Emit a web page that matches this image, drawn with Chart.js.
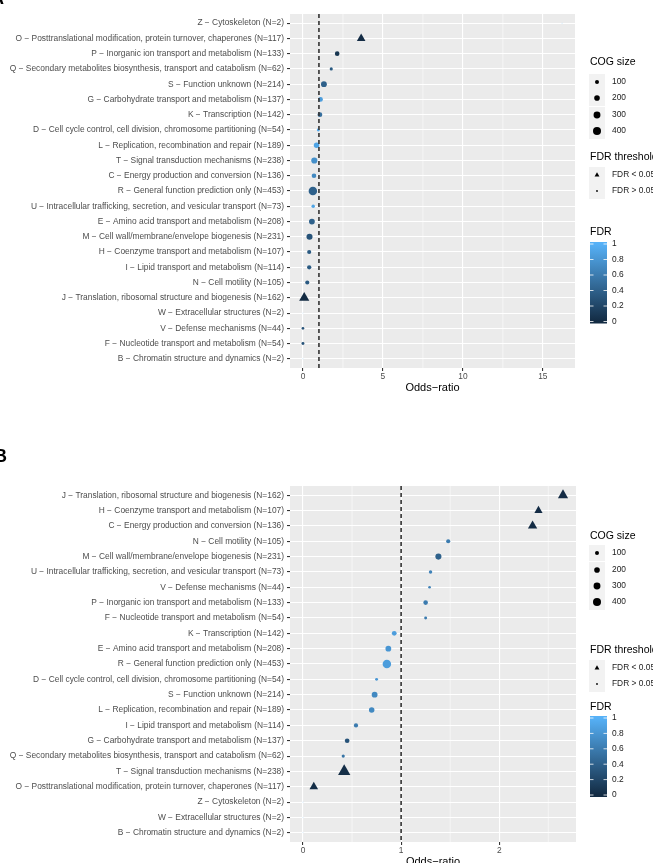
<!DOCTYPE html>
<html>
<head>
<meta charset="utf-8">
<script src="https://cdn.jsdelivr.net/npm/chart.js@4.4.1/dist/chart.umd.min.js"></script>
<style>
  html, body { margin: 0; padding: 0; background: #fff; overflow: hidden; width: 653px; height: 863px; }
  canvas { position: absolute; left: 0; }
  #chartA { top: 0; }
  #chartB { top: 431px; }
</style>
</head>
<body>
<canvas id="chartA" width="653" height="431"></canvas>
<canvas id="chartB" width="653" height="455"></canvas>
<script>
// ---- panel A: categories top to bottom ----
const categoriesA = [
  "Z − Cytoskeleton (N=2)",
  "O − Posttranslational modification, protein turnover, chaperones (N=117)",
  "P − Inorganic ion transport and metabolism (N=133)",
  "Q − Secondary metabolites biosynthesis, transport and catabolism (N=62)",
  "S − Function unknown (N=214)",
  "G − Carbohydrate transport and metabolism (N=137)",
  "K − Transcription (N=142)",
  "D − Cell cycle control, cell division, chromosome partitioning (N=54)",
  "L − Replication, recombination and repair (N=189)",
  "T − Signal transduction mechanisms (N=238)",
  "C − Energy production and conversion (N=136)",
  "R − General function prediction only (N=453)",
  "U − Intracellular trafficking, secretion, and vesicular transport (N=73)",
  "E − Amino acid transport and metabolism (N=208)",
  "M − Cell wall/membrane/envelope biogenesis (N=231)",
  "H − Coenzyme transport and metabolism (N=107)",
  "I − Lipid transport and metabolism (N=114)",
  "N − Cell motility (N=105)",
  "J − Translation, ribosomal structure and biogenesis (N=162)",
  "W − Extracellular structures (N=2)",
  "V − Defense mechanisms (N=44)",
  "F − Nucleotide transport and metabolism (N=54)",
  "B − Chromatin structure and dynamics (N=2)"
];
const sizesA = [2, 117, 133, 62, 214, 137, 142, 54, 189, 238, 136, 453, 73, 208, 231, 107, 114, 105, 162, 2, 44, 54, 2];
const oddsA  = [16.2, 3.64, 2.14, 1.77, 1.31, 1.10, 1.06, 0.96, 0.85, 0.71, 0.69, 0.62, 0.64, 0.56, 0.41, 0.39, 0.39, 0.27, 0.08, 0, 0, 0, 0];
const fdrA   = [1, 0.01, 0.08, 0.35, 0.4, 0.85, 0.5, 0.95, 0.9, 0.75, 0.7, 0.4, 0.9, 0.4, 0.3, 0.35, 0.35, 0.35, 0.0, 1, 0.3, 0.3, 1];
const xTicksA = [0, 5, 10, 15];

// ---- panel B ----
const categoriesB = [
  "J − Translation, ribosomal structure and biogenesis (N=162)",
  "H − Coenzyme transport and metabolism (N=107)",
  "C − Energy production and conversion (N=136)",
  "N − Cell motility (N=105)",
  "M − Cell wall/membrane/envelope biogenesis (N=231)",
  "U − Intracellular trafficking, secretion, and vesicular transport (N=73)",
  "V − Defense mechanisms (N=44)",
  "P − Inorganic ion transport and metabolism (N=133)",
  "F − Nucleotide transport and metabolism (N=54)",
  "K − Transcription (N=142)",
  "E − Amino acid transport and metabolism (N=208)",
  "R − General function prediction only (N=453)",
  "D − Cell cycle control, cell division, chromosome partitioning (N=54)",
  "S − Function unknown (N=214)",
  "L − Replication, recombination and repair (N=189)",
  "I − Lipid transport and metabolism (N=114)",
  "G − Carbohydrate transport and metabolism (N=137)",
  "Q − Secondary metabolites biosynthesis, transport and catabolism (N=62)",
  "T − Signal transduction mechanisms (N=238)",
  "O − Posttranslational modification, protein turnover, chaperones (N=117)",
  "Z − Cytoskeleton (N=2)",
  "W − Extracellular structures (N=2)",
  "B − Chromatin structure and dynamics (N=2)"
];
const sizesB = [162, 107, 136, 105, 231, 73, 44, 133, 54, 142, 208, 453, 54, 214, 189, 114, 137, 62, 238, 117, 2, 2, 2];
const oddsB  = [2.65, 2.40, 2.34, 1.48, 1.38, 1.30, 1.29, 1.25, 1.25, 0.93, 0.87, 0.855, 0.75, 0.73, 0.70, 0.54, 0.45, 0.41, 0.42, 0.11, 0, 0, 0];
const fdrB   = [0.01, 0.01, 0.01, 0.6, 0.4, 0.65, 0.65, 0.6, 0.6, 0.85, 0.8, 0.85, 0.8, 0.7, 0.7, 0.6, 0.3, 0.55, 0.02, 0.02, 1, 1, 1];
const xTicksB = [0, 1, 2];

// legend values
const sizeKeys = [100, 200, 300, 400];
const thresholdKeys = ["FDR < 0.05", "FDR > 0.05"];
const fdrTicks = [1, 0.8, 0.6, 0.4, 0.2, 0];

const FONT = "'Liberation Sans', Arial, Helvetica, sans-serif";
const LOW = [19, 43, 67], HIGH = [86, 177, 247];

function fdrColor(v) {
  const c = LOW.map((l, i) => Math.round(l + (HIGH[i] - l) * v));
  return `rgb(${c[0]},${c[1]},${c[2]})`;
}
function pointSize(n, triangle) {
  const r = 0.2 * Math.sqrt(n);
  return triangle ? r * 2.3 : r;
}

function drawLegends(ctx, L) {
  const kx = 597, tx = 612;
  ctx.save();
  ctx.textAlign = 'left';
  ctx.textBaseline = 'middle';
  // COG size
  ctx.fillStyle = '#000';
  ctx.font = `10.5px ${FONT}`;
  ctx.fillText('COG size', 590, L.sizeTitle);
  sizeKeys.forEach((s, i) => {
    const y = L.sizeY[i];
    ctx.fillStyle = '#F2F2F2';
    ctx.fillRect(kx - 8, y - 8, 16, 16);
    ctx.fillStyle = '#000';
    ctx.beginPath(); ctx.arc(kx, y, pointSize(s, false), 0, Math.PI * 2); ctx.fill();
    ctx.fillStyle = '#1A1A1A';
    ctx.font = `8.4px ${FONT}`;
    ctx.fillText(String(s), tx, y);
  });
  // FDR threshold
  ctx.fillStyle = '#000';
  ctx.font = `10.5px ${FONT}`;
  ctx.fillText('FDR threshold', 590, L.thrTitle);
  thresholdKeys.forEach((t, i) => {
    const y = L.thrY[i];
    ctx.fillStyle = '#F2F2F2';
    ctx.fillRect(kx - 8, y - 8, 16, 16);
    ctx.fillStyle = '#000';
    ctx.beginPath();
    if (i === 0) {
      const r = 2.8;
      ctx.moveTo(kx, y - r);
      ctx.lineTo(kx + r * 0.866, y + r / 2);
      ctx.lineTo(kx - r * 0.866, y + r / 2);
      ctx.closePath();
    } else {
      ctx.arc(kx, y, 0.9, 0, Math.PI * 2);
    }
    ctx.fill();
    ctx.fillStyle = '#1A1A1A';
    ctx.font = `8.4px ${FONT}`;
    ctx.fillText(t, tx, y);
  });
  // FDR colour bar
  ctx.fillStyle = '#000';
  ctx.font = `10.5px ${FONT}`;
  ctx.fillText('FDR', 590, L.fdrTitle);
  const g = ctx.createLinearGradient(0, L.v0, 0, L.v1);
  g.addColorStop(0, fdrColor(0));
  g.addColorStop(0.5, fdrColor(0.5));
  g.addColorStop(1, fdrColor(1));
  ctx.fillStyle = g;
  ctx.fillRect(590, L.v1 - 2, 17, L.v0 - L.v1 + 4);
  ctx.strokeStyle = '#fff';
  ctx.lineWidth = 0.8;
  ctx.font = `8.4px ${FONT}`;
  fdrTicks.forEach(v => {
    const y = L.v0 + (L.v1 - L.v0) * v;
    ctx.beginPath();
    ctx.moveTo(590, y); ctx.lineTo(593.5, y);
    ctx.moveTo(603.5, y); ctx.lineTo(607, y);
    ctx.stroke();
    ctx.fillStyle = '#1A1A1A';
    ctx.fillText(String(v), tx, y);
  });
  ctx.restore();
}

function ggPlugin(cfg) {
  return {
    id: 'gg' + cfg.letter,
    beforeDraw(chart) {
      const { ctx, chartArea: a } = chart;
      const x = chart.scales.x;
      ctx.save();
      ctx.fillStyle = '#EBEBEB';
      ctx.fillRect(a.left, a.top, a.right - a.left, a.bottom - a.top);
      ctx.strokeStyle = '#fff';
      ctx.lineWidth = 0.55;
      cfg.minor.forEach(m => {
        const px = x.getPixelForValue(m);
        ctx.beginPath(); ctx.moveTo(px, a.top); ctx.lineTo(px, a.bottom); ctx.stroke();
      });
      ctx.restore();
    },
    afterDatasetsDraw(chart) {
      const { ctx, chartArea: a } = chart;
      const px = chart.scales.x.getPixelForValue(1);
      ctx.save();
      ctx.strokeStyle = '#333';
      ctx.lineWidth = 1.6;
      ctx.setLineDash([4, 3]);
      ctx.beginPath(); ctx.moveTo(px, a.top); ctx.lineTo(px, a.bottom); ctx.stroke();
      ctx.restore();
    },
    afterDraw(chart) {
      const { ctx, chartArea: a } = chart;
      ctx.save();
      ctx.fillStyle = '#000';
      ctx.textAlign = 'center';
      ctx.textBaseline = 'middle';
      ctx.font = `11px ${FONT}`;
      ctx.fillText('Odds−ratio', (a.left + a.right) / 2, a.bottom + 20);
      ctx.textAlign = 'left';
      ctx.textBaseline = 'alphabetic';
      ctx.font = `bold 18px ${FONT}`;
      ctx.fillText(cfg.letter, cfg.letterX, cfg.letterY);
      ctx.restore();
      drawLegends(ctx, cfg.legend);
    }
  };
}

function makeChart(id, cats, sizes, odds, fdr, xTicks, cfg) {
  const pts = odds.map((v, i) => ({ x: v, y: i }));
  return new Chart(document.getElementById(id), {
    type: 'scatter',
    data: {
      datasets: [{
        data: pts,
        pointStyle: c => fdr[c.dataIndex] < 0.05 ? 'triangle' : 'circle',
        pointRadius: c => pointSize(sizes[c.dataIndex], fdr[c.dataIndex] < 0.05),
        pointHoverRadius: c => pointSize(sizes[c.dataIndex], fdr[c.dataIndex] < 0.05),
        backgroundColor: c => fdrColor(fdr[c.dataIndex]),
        borderWidth: 0
      }]
    },
    options: {
      responsive: false,
      animation: false,
      devicePixelRatio: 1,
      layout: { padding: cfg.padding },
      plugins: { legend: { display: false }, tooltip: { enabled: false } },
      scales: {
        x: {
          type: 'linear', min: cfg.xmin, max: cfg.xmax,
          afterBuildTicks: s => { s.ticks = xTicks.map(v => ({ value: v })); },
          afterFit: s => { s.height = cfg.xHeight; },
          ticks: { font: { size: 8.4, family: FONT }, color: '#4D4D4D', padding: 1, autoSkip: false, maxRotation: 0 },
          grid: { color: '#fff', lineWidth: 1.1, tickColor: '#333', tickLength: 3 },
          border: { display: false }
        },
        y: {
          type: 'linear', min: -0.6, max: cats.length - 0.4, reverse: true,
          afterBuildTicks: s => { s.ticks = cats.map((_, i) => ({ value: i })); },
          afterFit: s => { s.width = 290; },
          ticks: {
            callback: (v, i) => cats[i],
            font: { size: 8.4, family: FONT }, color: '#4D4D4D', padding: 3, autoSkip: false
          },
          grid: { color: '#fff', lineWidth: 1.1, tickColor: '#333', tickLength: 3 },
          border: { display: false }
        }
      }
    },
    plugins: [ggPlugin(cfg)]
  });
}

makeChart('chartA', categoriesA, sizesA, oddsA, fdrA, xTicksA, {
  letter: 'A', letterX: -9, letterY: 4,
  xmin: -0.81, xmax: 17.01, minor: [2.5, 7.5, 12.5],
  padding: { left: 0, top: 14, right: 78, bottom: 0 }, xHeight: 63,
  legend: { sizeTitle: 62, sizeY: [82, 98, 115, 131], thrTitle: 157, thrY: [175, 191], fdrTitle: 232, v1: 244, v0: 321.5 }
});

makeChart('chartB', categoriesB, sizesB, oddsB, fdrB, xTicksB, {
  letter: 'B', letterX: -6, letterY: 31,
  xmin: -0.1325, xmax: 2.7825, minor: [0.5, 1.5, 2.5],
  padding: { left: 0, top: 55, right: 77, bottom: 0 }, xHeight: 44,
  legend: { sizeTitle: 105, sizeY: [122, 139, 155, 171], thrTitle: 219, thrY: [237, 253], fdrTitle: 276, v1: 287, v0: 364 }
});
</script>
</body>
</html>
